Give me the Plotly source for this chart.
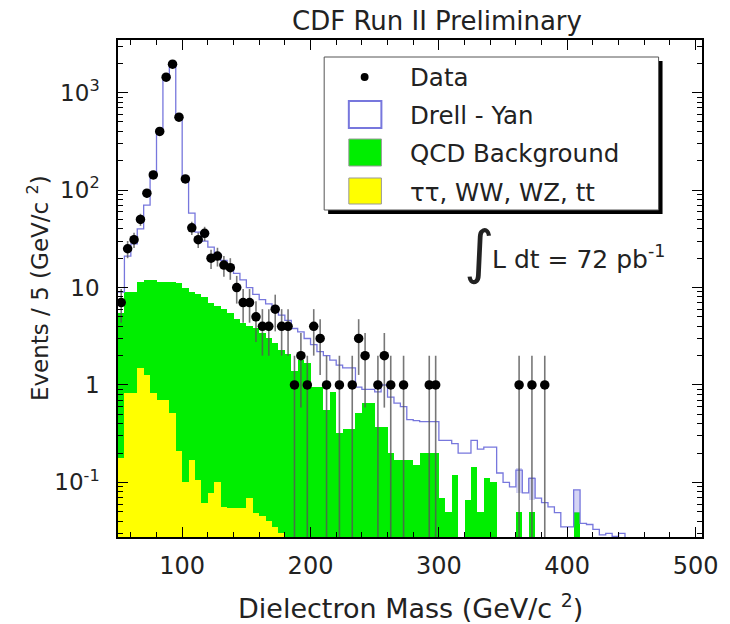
import numpy as np
import plotly.graph_objects as go

# ---------------- data (5 GeV/c^2 bins, first bin starts at 50) ----------------
BIN_START = 50
BIN_W = 5

# Observed events per bin, bins 50-55 ... 380-385
data_counts = [7, 25, 31, 50, 93, 143, 400, 1440, 1960, 560,
               130, 41, 31, 36, 20, 21, 17, 16, 10, 7,
               7, 5, 4, 4, 6, 4, 4, 1, 2, 1,
               4, 3, 1, 0, 1, 0, 1, 3, 2, 0,
               1, 2, 1, 0, 1, 0, 0, 0, 1, 1,
               0, 0, 0, 0, 0, 0, 0, 0, 0, 0,
               0, 0, 1, 0, 1, 0, 1]

# Total expectation (Drell-Yan stacked on backgrounds), bins 50-55 ... 445-450
dy_total = [9, 21, 28, 40, 70, 150, 410, 1440, 2000, 560,
            127, 58, 37, 30, 26, 22, 19, 17, 14, 12,
            10, 8.5, 7.5, 6.8, 6.0, 5.2, 4.6, 3.8, 3.5, 3.0,
            2.6, 2.2, 2.0, 1.8, 1.6, 1.5, 1.5, 0.95, 0.9, 0.9,
            0.85, 1.0, 0.75, 0.65, 0.6, 0.44, 0.43, 0.42, 0.42, 0.42,
            0.27, 0.27, 0.25, 0.2, 0.2, 0.27, 0.22, 0.23, 0.23, 0.125,
            0.1, 0.09, 0.134, 0.078, 0.11, 0.069, 0.062, 0.056, 0.049, 0.035,
            0.035, 0.084, 0.038, 0.037, 0.033, 0.029, 0.03, 0.028, 0.03, 0.02]

# QCD background stacked on other backgrounds (green top), bins 50-55 ... 405-410
qcd_top = [5.5, 9, 9, 11.5, 12, 12, 11.5, 11.5, 11.5, 11,
           10, 9, 8.5, 8, 7, 6.5, 6, 5.5, 4.8, 4.3,
           4, 3.8, 3.4, 3, 2.7, 2.3, 2.1, 1.4, 1.8, 1.7,
           0.95, 0.95, 0.55, 0.85, 0.32, 0.35, 0.35, 0.52, 0.65, 0.65,
           0.37, 0.37, 0.2, 0.17, 0.17, 0.17, 0.15, 0.2, 0.2, 0.2,
           0.07, 0.05, 0.12, 0, 0.066, 0.144, 0.05, 0.11, 0.1, 0,
           0, 0, 0.05, 0, 0.05, 0, 0, 0, 0, 0,
           0, 0.05]

# tau tau, WW, WZ, ttbar (yellow), bins 50-55 ... 180-185
other_bkg = [0.18, 0.83, 0.83, 1.5, 1.27, 0.83, 0.7, 0.7, 0.52, 0.21,
             0.1, 0.17, 0.106, 0.062, 0.078, 0.1, 0.056, 0.055, 0.055, 0.055,
             0.07, 0.049, 0.045, 0.04, 0.035, 0.03, 0.027]

# MC uncertainty boxes on the expectation (bin low edge, low, high)
dy_err_bins = [360, 370, 405]
dy_err_low = [0.078, 0.066, 0.049]
dy_err_high = [0.141, 0.114, 0.084]

x_tickvals = [100, 200, 300, 400, 500]
y_tickvals = [0.1, 1, 10, 100, 1000]
y_ticktext = ["10<sup>-1</sup>", "1", "10", "10<sup>2</sup>", "10<sup>3</sup>"]

legend_labels = ["Data", "Drell - Yan", "QCD Background", "\u03c4\u03c4, WW, WZ, tt"]

# ---------------- styling ----------------
FONT = "DejaVu Sans"
GREEN = "#00ee00"
YELLOW = "#ffff00"
DYBLUE = "#7777dd"
TXT = "#222222"

W, H = 730, 624
L, R, T, B = 118, 20, 40, 87
PW, PH = W - L - R, H - T - B


def P(px, py):
    """pixel -> paper coordinates"""
    return (px - L) / PW, (H - B - py) / PH


def centers(n):
    return BIN_START + BIN_W * (np.arange(n) + 0.5)


fig = go.Figure()

# green (QCD + other)
q = np.array(qcd_top, dtype=float)
qc = centers(len(q))
mask = q > 0
fig.add_trace(go.Bar(x=qc[mask], y=q[mask], width=BIN_W, marker=dict(color=GREEN, line=dict(width=0)),
                     showlegend=False, hoverinfo="skip"))

# yellow
o = np.array(other_bkg, dtype=float)
fig.add_trace(go.Bar(x=centers(len(o)), y=o, width=BIN_W, marker=dict(color=YELLOW, line=dict(width=0)),
                     showlegend=False, hoverinfo="skip"))

# uncertainty boxes
eb = np.array(dy_err_bins, dtype=float) + BIN_W / 2
elo = np.array(dy_err_low)
ehi = np.array(dy_err_high)
fig.add_trace(go.Bar(x=eb, y=ehi - elo, base=elo, width=BIN_W,
                     marker=dict(color="rgba(160,160,230,0.45)", line=dict(width=0)),
                     showlegend=False, hoverinfo="skip"))

# Drell-Yan step outline
d = np.array(dy_total, dtype=float)
edges = BIN_START + BIN_W * np.arange(len(d) + 1)
fig.add_trace(go.Scatter(x=edges, y=np.append(d, d[-1]), mode="lines", line=dict(color=DYBLUE, width=1.3, shape="hv"),
                         showlegend=False, hoverinfo="skip"))

# data
n = np.array(data_counts, dtype=float)
dc = centers(len(n))
m = n > 0
err = np.sqrt(n[m])
fig.add_trace(go.Scatter(x=dc[m], y=n[m], mode="markers",
                         marker=dict(color="black", size=9.5),
                         error_y=dict(type="data", array=err, arrayminus=err, color="rgba(85,85,85,0.8)",
                                      thickness=1.6, width=0),
                         showlegend=False))

fig.update_layout(
    width=W, height=H,
    margin=dict(l=L, r=R, t=T, b=B),
    paper_bgcolor="white", plot_bgcolor="white",
    barmode="overlay", bargap=0,
    font=dict(family=FONT, color=TXT),
    showlegend=False,
)

fig.update_xaxes(range=[50, 505], tickvals=x_tickvals, ticks="inside", ticklen=10, tickwidth=1,
                 tickcolor="black", showline=True, linecolor="black", linewidth=1.5, mirror="ticks",
                 showgrid=False, zeroline=False, tickfont=dict(size=24, family=FONT, color=TXT),
                 ticklabelstandoff=6,
                 minor=dict(dtick=20, ticks="inside", ticklen=5, tickcolor="black", showgrid=False))
fig.update_yaxes(type="log", range=[-1.56, 3.54], tickvals=y_tickvals, ticktext=y_ticktext,
                 ticks="inside", ticklen=10, tickwidth=1, tickcolor="black",
                 showline=True, linecolor="black", linewidth=1.5, mirror="ticks",
                 showgrid=False, zeroline=False, tickfont=dict(size=23, family=FONT, color=TXT),
                 ticklabelstandoff=12,
                 minor=dict(dtick="D1", ticks="inside", ticklen=5, tickcolor="black", showgrid=False))

ann = []
# title
x, y = P(441, 21)
ann.append(dict(text="CDF Run II Preliminary", x=x, y=y, xref="paper", yref="paper", showarrow=False,
                font=dict(size=26, family=FONT, color=TXT), xanchor="center", yanchor="middle"))
# x-title
x, y = P(414, 606)
ann.append(dict(text="Dielectron Mass (GeV/c <sup>2</sup>)", x=x, y=y, xref="paper", yref="paper",
                showarrow=False, font=dict(size=27, family=FONT, color=TXT), xanchor="center", yanchor="middle"))
# y-title
x, y = P(37, 288)
ann.append(dict(text="Events / 5 (GeV/c <sup>2</sup>)", x=x, y=y, xref="paper", yref="paper",
                showarrow=False, textangle=-90, font=dict(size=23, family=FONT, color=TXT),
                xanchor="center", yanchor="middle"))
# luminosity
x, y = P(484, 252)
ann.append(dict(text="\u222b", x=x, y=y, xref="paper", yref="paper", showarrow=False,
                font=dict(size=58, family=FONT, color=TXT), xanchor="center", yanchor="middle"))
x, y = P(495, 257)
ann.append(dict(text="L dt = 72 pb<sup>-1</sup>", x=x, y=y, xref="paper", yref="paper", showarrow=False,
                font=dict(size=25, family=FONT, color=TXT), xanchor="left", yanchor="middle"))

# legend text
for lbl, py in zip(legend_labels, [77, 115, 153, 192]):
    x, y = P(412, py)
    ann.append(dict(text=lbl, x=x, y=y, xref="paper", yref="paper", showarrow=False,
                    font=dict(size=24.5, family=FONT, color=TXT), xanchor="left", yanchor="middle"))

shapes = []


def rect(x0, y0, x1, y1, **kw):
    a, b = P(x0, y0)
    c, dd = P(x1, y1)
    s = dict(type="rect", xref="paper", yref="paper", x0=a, y0=b, x1=c, y1=dd)
    s.update(kw)
    return s


shapes.append(rect(331, 61, 670, 214, fillcolor="black", line=dict(width=0)))
shapes.append(rect(327, 57, 666, 210, fillcolor="white", line=dict(color="#555", width=1)))
c1 = P(364, 73)
c2 = P(372, 81)
shapes.append(dict(type="circle", xref="paper", yref="paper", x0=c1[0], y0=c1[1], x1=c2[0], y1=c2[1],
                   fillcolor="black", line=dict(width=0)))
shapes.append(rect(352, 101, 385, 128, fillcolor="white", line=dict(color=DYBLUE, width=2)))
shapes.append(rect(352, 139, 385, 166, fillcolor=GREEN, line=dict(color="#999", width=1)))
shapes.append(rect(352, 178, 385, 204, fillcolor=YELLOW, line=dict(color="#999", width=1)))

fig.update_layout(annotations=ann, shapes=shapes)

fig.write_html("out.html")
